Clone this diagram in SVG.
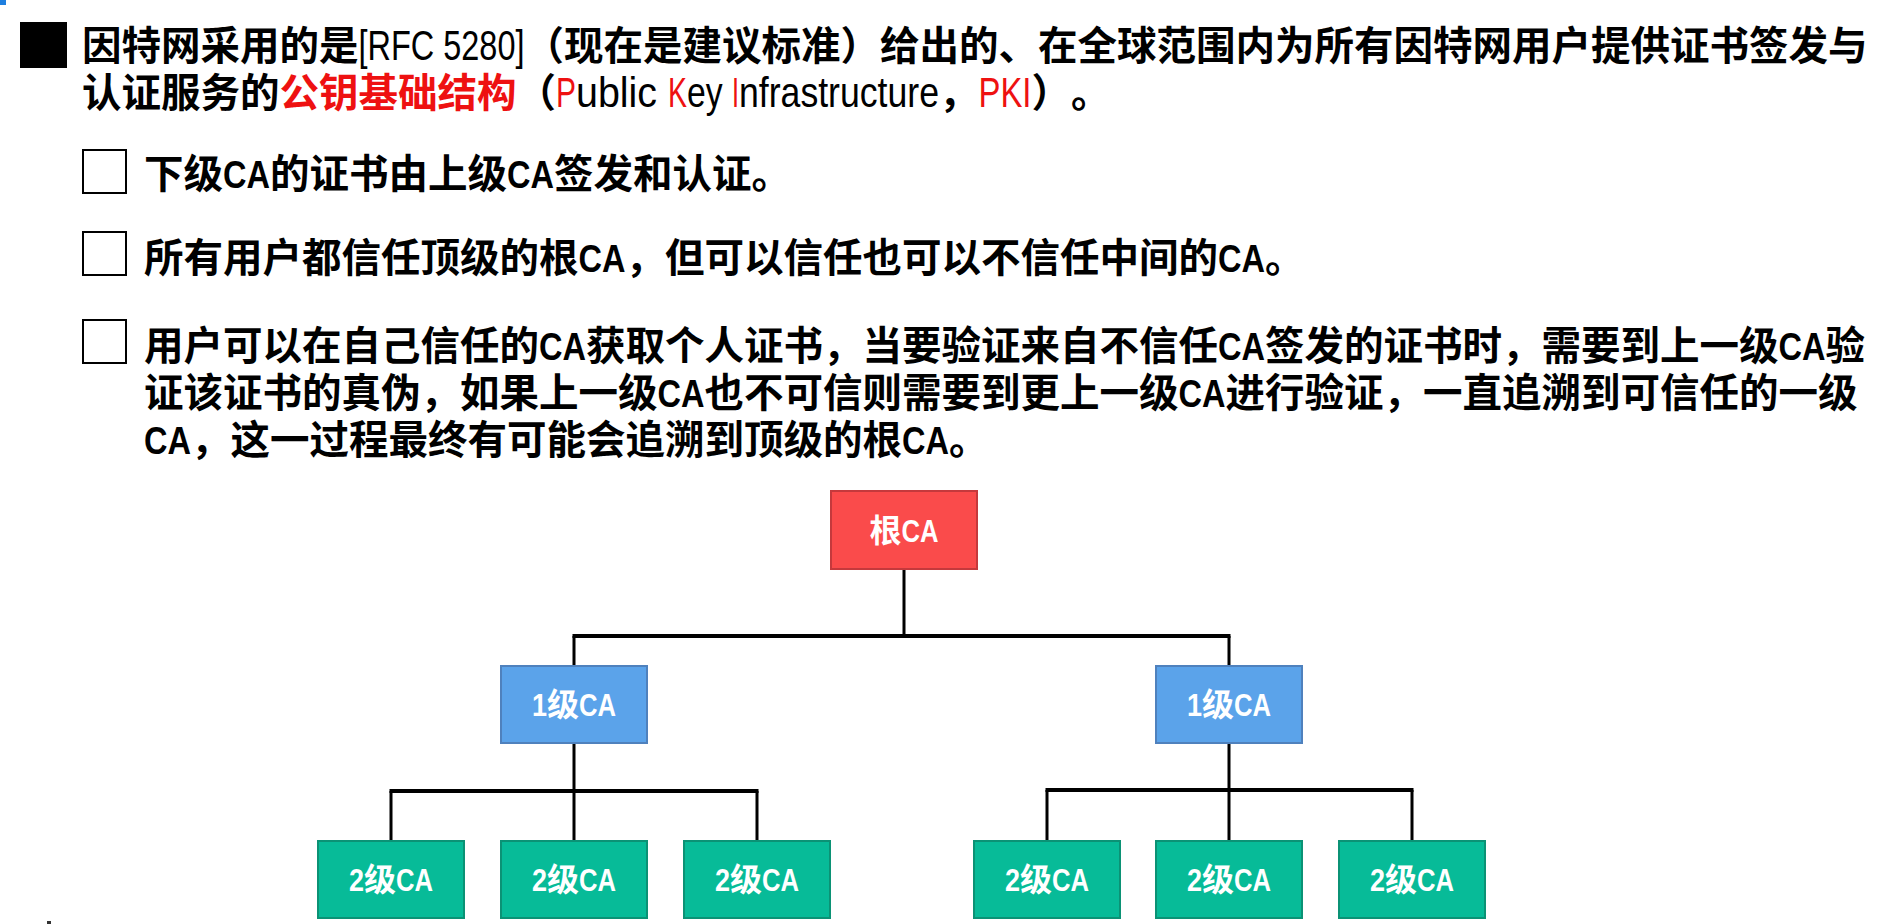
<svg xmlns="http://www.w3.org/2000/svg" width="1893" height="924" viewBox="0 0 1893 924">
<style>
.t{font-family:"Liberation Sans","Noto Sans CJK SC",sans-serif;font-weight:700;font-size:39.5px;fill:#000;text-spacing-trim:space-all}
.n{font-weight:400;font-size:42px}
.r{fill:#ee1111}
.box{stroke-width:2}
.root{fill:#fa4b4b;stroke:#c5393c}
.l1{fill:#5ba3ea;stroke:#4f81bd}
.l2{fill:#07bb98;stroke:#0b9275}
.nt{font-family:"Liberation Sans","Noto Sans CJK SC",sans-serif;font-weight:700;font-size:32px;fill:#fff;text-anchor:middle}
.cb{fill:#fff;stroke:#000;stroke-width:2}
.c{fill:none;stroke:#000;stroke-width:3}
.h{stroke-width:4}
</style>
<rect width="1893" height="924" fill="#fff"/>
<rect x="0" y="0" width="6" height="5" fill="#1e7fe0"/>
<rect x="47" y="921" width="4" height="3" fill="#333"/>
<g id="text">
<rect x="20" y="22" width="47" height="46" fill="#000"/>
<text class="t" x="82" y="60">因特网采用的是<tspan class="n" textLength="166" lengthAdjust="spacingAndGlyphs">[RFC 5280]</tspan>（现在是建议标准）给出的、在全球范围内为所有因特网用户提供证书签发与</text>
<text class="t" x="82" y="107">认证服务的<tspan class="r">公钥基础结构</tspan>（<tspan class="n r" textLength="20" lengthAdjust="spacingAndGlyphs">P</tspan><tspan class="n" textLength="92" lengthAdjust="spacingAndGlyphs">ublic </tspan><tspan class="n r" textLength="19" lengthAdjust="spacingAndGlyphs">K</tspan><tspan class="n" textLength="45" lengthAdjust="spacingAndGlyphs">ey </tspan><tspan class="n r" textLength="7" lengthAdjust="spacingAndGlyphs">I</tspan><tspan class="n" textLength="200" lengthAdjust="spacingAndGlyphs">nfrastructure</tspan>，<tspan class="n r" textLength="53" lengthAdjust="spacingAndGlyphs">PKI</tspan>）。</text>
<rect class="cb" x="83" y="150" width="43" height="43"/>
<text class="t" x="144" y="188">下级<tspan textLength="47" lengthAdjust="spacingAndGlyphs">CA</tspan>的证书由上级<tspan textLength="47" lengthAdjust="spacingAndGlyphs">CA</tspan>签发和认证。</text>
<rect class="cb" x="83" y="232" width="43" height="43"/>
<text class="t" x="144" y="272">所有用户都信任顶级的根<tspan textLength="47" lengthAdjust="spacingAndGlyphs">CA</tspan>，但可以信任也可以不信任中间的<tspan textLength="47" lengthAdjust="spacingAndGlyphs">CA</tspan>。</text>
<rect class="cb" x="83" y="320" width="43" height="43"/>
<text class="t" x="144" y="360">用户可以在自己信任的<tspan textLength="47" lengthAdjust="spacingAndGlyphs">CA</tspan>获取个人证书，当要验证来自不信任<tspan textLength="47" lengthAdjust="spacingAndGlyphs">CA</tspan>签发的证书时，需要到上一级<tspan textLength="47" lengthAdjust="spacingAndGlyphs">CA</tspan>验</text>
<text class="t" x="144" y="407">证该证书的真伪，如果上一级<tspan textLength="47" lengthAdjust="spacingAndGlyphs">CA</tspan>也不可信则需要到更上一级<tspan textLength="47" lengthAdjust="spacingAndGlyphs">CA</tspan>进行验证，一直追溯到可信任的一级</text>
<text class="t" x="144" y="454"><tspan textLength="47" lengthAdjust="spacingAndGlyphs">CA</tspan>，这一过程最终有可能会追溯到顶级的根<tspan textLength="47" lengthAdjust="spacingAndGlyphs">CA</tspan>。</text>
</g>
<g id="connectors">
<path class="c" d="M904 569V636M574 636V666M1229 636V666"/>
<path class="c h" d="M572.5 636H1230.5"/>
<path class="c" d="M574 743V841M391 791V841M757 791V841"/>
<path class="c h" d="M389.5 791H758.5"/>
<path class="c" d="M1229 743V841M1047 790V841M1412 790V841"/>
<path class="c h" d="M1045.5 790H1413.5"/>
</g>
<g id="root-ca"><rect class="box root" x="831" y="491" width="146" height="78"/><text class="nt" x="904" y="542">根<tspan textLength="37" lengthAdjust="spacingAndGlyphs">CA</tspan></text></g>
<g id="ca1-left"><rect class="box l1" x="501" y="666" width="146" height="77"/><text class="nt" x="574" y="716"><tspan textLength="15" lengthAdjust="spacingAndGlyphs">1</tspan>级<tspan textLength="37" lengthAdjust="spacingAndGlyphs">CA</tspan></text></g>
<g id="ca1-right"><rect class="box l1" x="1156" y="666" width="146" height="77"/><text class="nt" x="1229" y="716"><tspan textLength="15" lengthAdjust="spacingAndGlyphs">1</tspan>级<tspan textLength="37" lengthAdjust="spacingAndGlyphs">CA</tspan></text></g>
<g id="ca2-1"><rect class="box l2" x="318" y="841" width="146" height="77"/><text class="nt" x="391" y="891"><tspan textLength="15" lengthAdjust="spacingAndGlyphs">2</tspan>级<tspan textLength="37" lengthAdjust="spacingAndGlyphs">CA</tspan></text></g>
<g id="ca2-2"><rect class="box l2" x="501" y="841" width="146" height="77"/><text class="nt" x="574" y="891"><tspan textLength="15" lengthAdjust="spacingAndGlyphs">2</tspan>级<tspan textLength="37" lengthAdjust="spacingAndGlyphs">CA</tspan></text></g>
<g id="ca2-3"><rect class="box l2" x="684" y="841" width="146" height="77"/><text class="nt" x="757" y="891"><tspan textLength="15" lengthAdjust="spacingAndGlyphs">2</tspan>级<tspan textLength="37" lengthAdjust="spacingAndGlyphs">CA</tspan></text></g>
<g id="ca2-4"><rect class="box l2" x="974" y="841" width="146" height="77"/><text class="nt" x="1047" y="891"><tspan textLength="15" lengthAdjust="spacingAndGlyphs">2</tspan>级<tspan textLength="37" lengthAdjust="spacingAndGlyphs">CA</tspan></text></g>
<g id="ca2-5"><rect class="box l2" x="1156" y="841" width="146" height="77"/><text class="nt" x="1229" y="891"><tspan textLength="15" lengthAdjust="spacingAndGlyphs">2</tspan>级<tspan textLength="37" lengthAdjust="spacingAndGlyphs">CA</tspan></text></g>
<g id="ca2-6"><rect class="box l2" x="1339" y="841" width="146" height="77"/><text class="nt" x="1412" y="891"><tspan textLength="15" lengthAdjust="spacingAndGlyphs">2</tspan>级<tspan textLength="37" lengthAdjust="spacingAndGlyphs">CA</tspan></text></g>
</svg>
